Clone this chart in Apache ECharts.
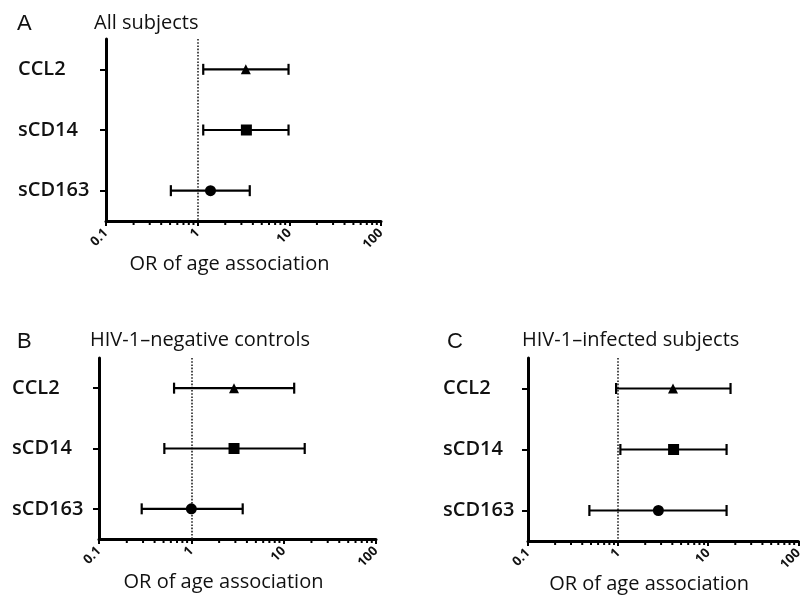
<!DOCTYPE html>
<html>
<head>
<meta charset="utf-8">
<script src="https://cdn.jsdelivr.net/npm/echarts@6/dist/echarts.min.js"></script>
<style>
  html, body { margin: 0; padding: 0; background: #fff; }
  #main { width: 805px; height: 601px; }
</style>
</head>
<body>
<div id="main"></div>
<script>
// 分类
var categories = ['CCL2', 'sCD14', 'sCD163'];
var symbols = ['triangle', 'rect', 'circle'];
var symbolSizes = [10, 11, 11];

// A: All subjects
var orA = [3.35, 3.4, 1.38];
var lowA = [1.15, 1.15, 0.51];
var highA = [9.8, 9.8, 3.7];

// B: HIV-1-negative controls
var orB = [2.9, 2.9, 1.0];
var lowB = [0.65, 0.51, 0.29];
var highB = [13, 16.9, 3.6];

// C: HIV-1-infected subjects
var orC = [4.07, 4.13, 2.8];
var lowC = [0.95, 1.06, 0.48];
var highC = [17.7, 16, 16];

// 次刻度 / 主刻度标签
var minorTicks = [0.2, 0.3, 0.4, 0.5, 0.6, 0.7, 0.8, 0.9, 2, 3, 4, 5, 6, 7, 8, 9, 20, 30, 40, 50, 60, 70, 80, 90];
var tickLabels = { '0.1': '0.1', '1': '1', '10': '10', '100': '100' };
var refLine = 1;

var panels = [
    { letter: 'A', title: 'All subjects', or: orA, low: lowA, high: highA,
      grid: { left: 106, top: 39, width: 275, height: 182 }, labelMargin: 88,
      letterPos: [12, 8], titlePos: [89, 8] },
    { letter: 'B', title: 'HIV-1\u2013negative controls', or: orB, low: lowB, high: highB,
      grid: { left: 99, top: 358, width: 277, height: 181 }, labelMargin: 87,
      letterPos: [12, 326], titlePos: [85, 325] },
    { letter: 'C', title: 'HIV-1\u2013infected subjects', or: orC, low: lowC, high: highC,
      grid: { left: 528, top: 358, width: 276, height: 183 }, labelMargin: 85,
      letterPos: [442, 326], titlePos: [517, 325] }
];

var font = 'Open Sans';
var grids = [], xAxes = [], yAxes = [], series = [], titles = [];

panels.forEach(function (p, i) {
    grids.push(p.grid);
    titles.push({
        text: p.letter, left: p.letterPos[0], top: p.letterPos[1],
        textStyle: { fontFamily: 'Liberation Sans', fontSize: 22, fontWeight: 'normal', color: '#111' }
    });
    titles.push({
        text: p.title, left: p.titlePos[0], top: p.titlePos[1],
        textStyle: { fontFamily: font, fontSize: 20, fontWeight: 'normal', color: '#111' }
    });
    xAxes.push({
        type: 'log', gridIndex: i, logBase: 10, min: 0.1, max: 100,
        name: 'OR of age association', nameLocation: 'middle', nameGap: 30,
        nameTextStyle: { fontFamily: font, fontSize: 20, color: '#111', padding: [0, 28, 0, 0] },
        axisLine: { show: true, lineStyle: { color: '#000', width: 3 } },
        axisTick: { show: true, length: 5, lineStyle: { color: '#000', width: 2 } },
        splitLine: { show: false },
        axisLabel: {
            show: true, rotate: 45, margin: 10, fontFamily: font, fontSize: 13, fontWeight: 'bold', color: '#111',
            formatter: function (v) { return tickLabels[String(+v.toPrecision(3))] || v; }
        }
    });
    yAxes.push({
        type: 'category', gridIndex: i, data: categories, inverse: true,
        axisLine: { show: true, lineStyle: { color: '#000', width: 3 } },
        axisTick: { show: true, alignWithLabel: true, length: 6, lineStyle: { color: '#000', width: 2 } },
        splitLine: { show: false },
        axisLabel: { show: true, align: 'left', margin: p.labelMargin, fontFamily: font, fontSize: 20, fontWeight: 600, color: '#111' }
    });

    // 误差线
    var bars = categories.map(function (c, k) { return [p.low[k], p.high[k], k]; });
    series.push({
        type: 'custom', xAxisIndex: i, yAxisIndex: i, z: 3, silent: true,
        encode: { x: [0, 1], y: 2 },
        data: bars,
        renderItem: function (params, api) {
            var a = api.coord([api.value(0), api.value(2)]);
            var b = api.coord([api.value(1), api.value(2)]);
            var cap = 5.5;
            var st = { stroke: '#000', lineWidth: 2.2 };
            return {
                type: 'group',
                children: [
                    { type: 'line', shape: { x1: a[0], y1: a[1], x2: b[0], y2: b[1] }, style: st },
                    { type: 'line', shape: { x1: a[0], y1: a[1] - cap, x2: a[0], y2: a[1] + cap }, style: st },
                    { type: 'line', shape: { x1: b[0], y1: b[1] - cap, x2: b[0], y2: b[1] + cap }, style: st }
                ]
            };
        }
    });

    // 点估计
    series.push({
        type: 'scatter', xAxisIndex: i, yAxisIndex: i, z: 4, silent: true,
        data: categories.map(function (c, k) {
            return { value: [p.or[k], c], symbol: symbols[k], symbolSize: symbolSizes[k] };
        }),
        itemStyle: { color: '#000', opacity: 1 },
        markLine: {
            silent: true, symbol: 'none', z: 1,
            label: { show: false },
            lineStyle: { color: '#222', width: 1.6, type: 'dotted' },
            data: [{ xAxis: refLine }]
        }
    });

    // 对数次刻度
    series.push({
        type: 'custom', xAxisIndex: i, yAxisIndex: i, z: 2, silent: true,
        encode: { x: 0, y: 1 },
        data: minorTicks.map(function (v) { return [v, 0]; }),
        renderItem: function (params, api) {
            var pt = api.coord([api.value(0), 0]);
            var bottom = params.coordSys.y + params.coordSys.height;
            return {
                type: 'line',
                shape: { x1: pt[0], y1: bottom, x2: pt[0], y2: bottom + 4 },
                style: { stroke: '#000', lineWidth: 2 }
            };
        }
    });
});

var myChart = echarts.init(document.getElementById('main'));
myChart.setOption({
    animation: false,
    backgroundColor: '#fff',
    title: titles,
    grid: grids,
    xAxis: xAxes,
    yAxis: yAxes,
    series: series
});
</script>
</body>
</html>
